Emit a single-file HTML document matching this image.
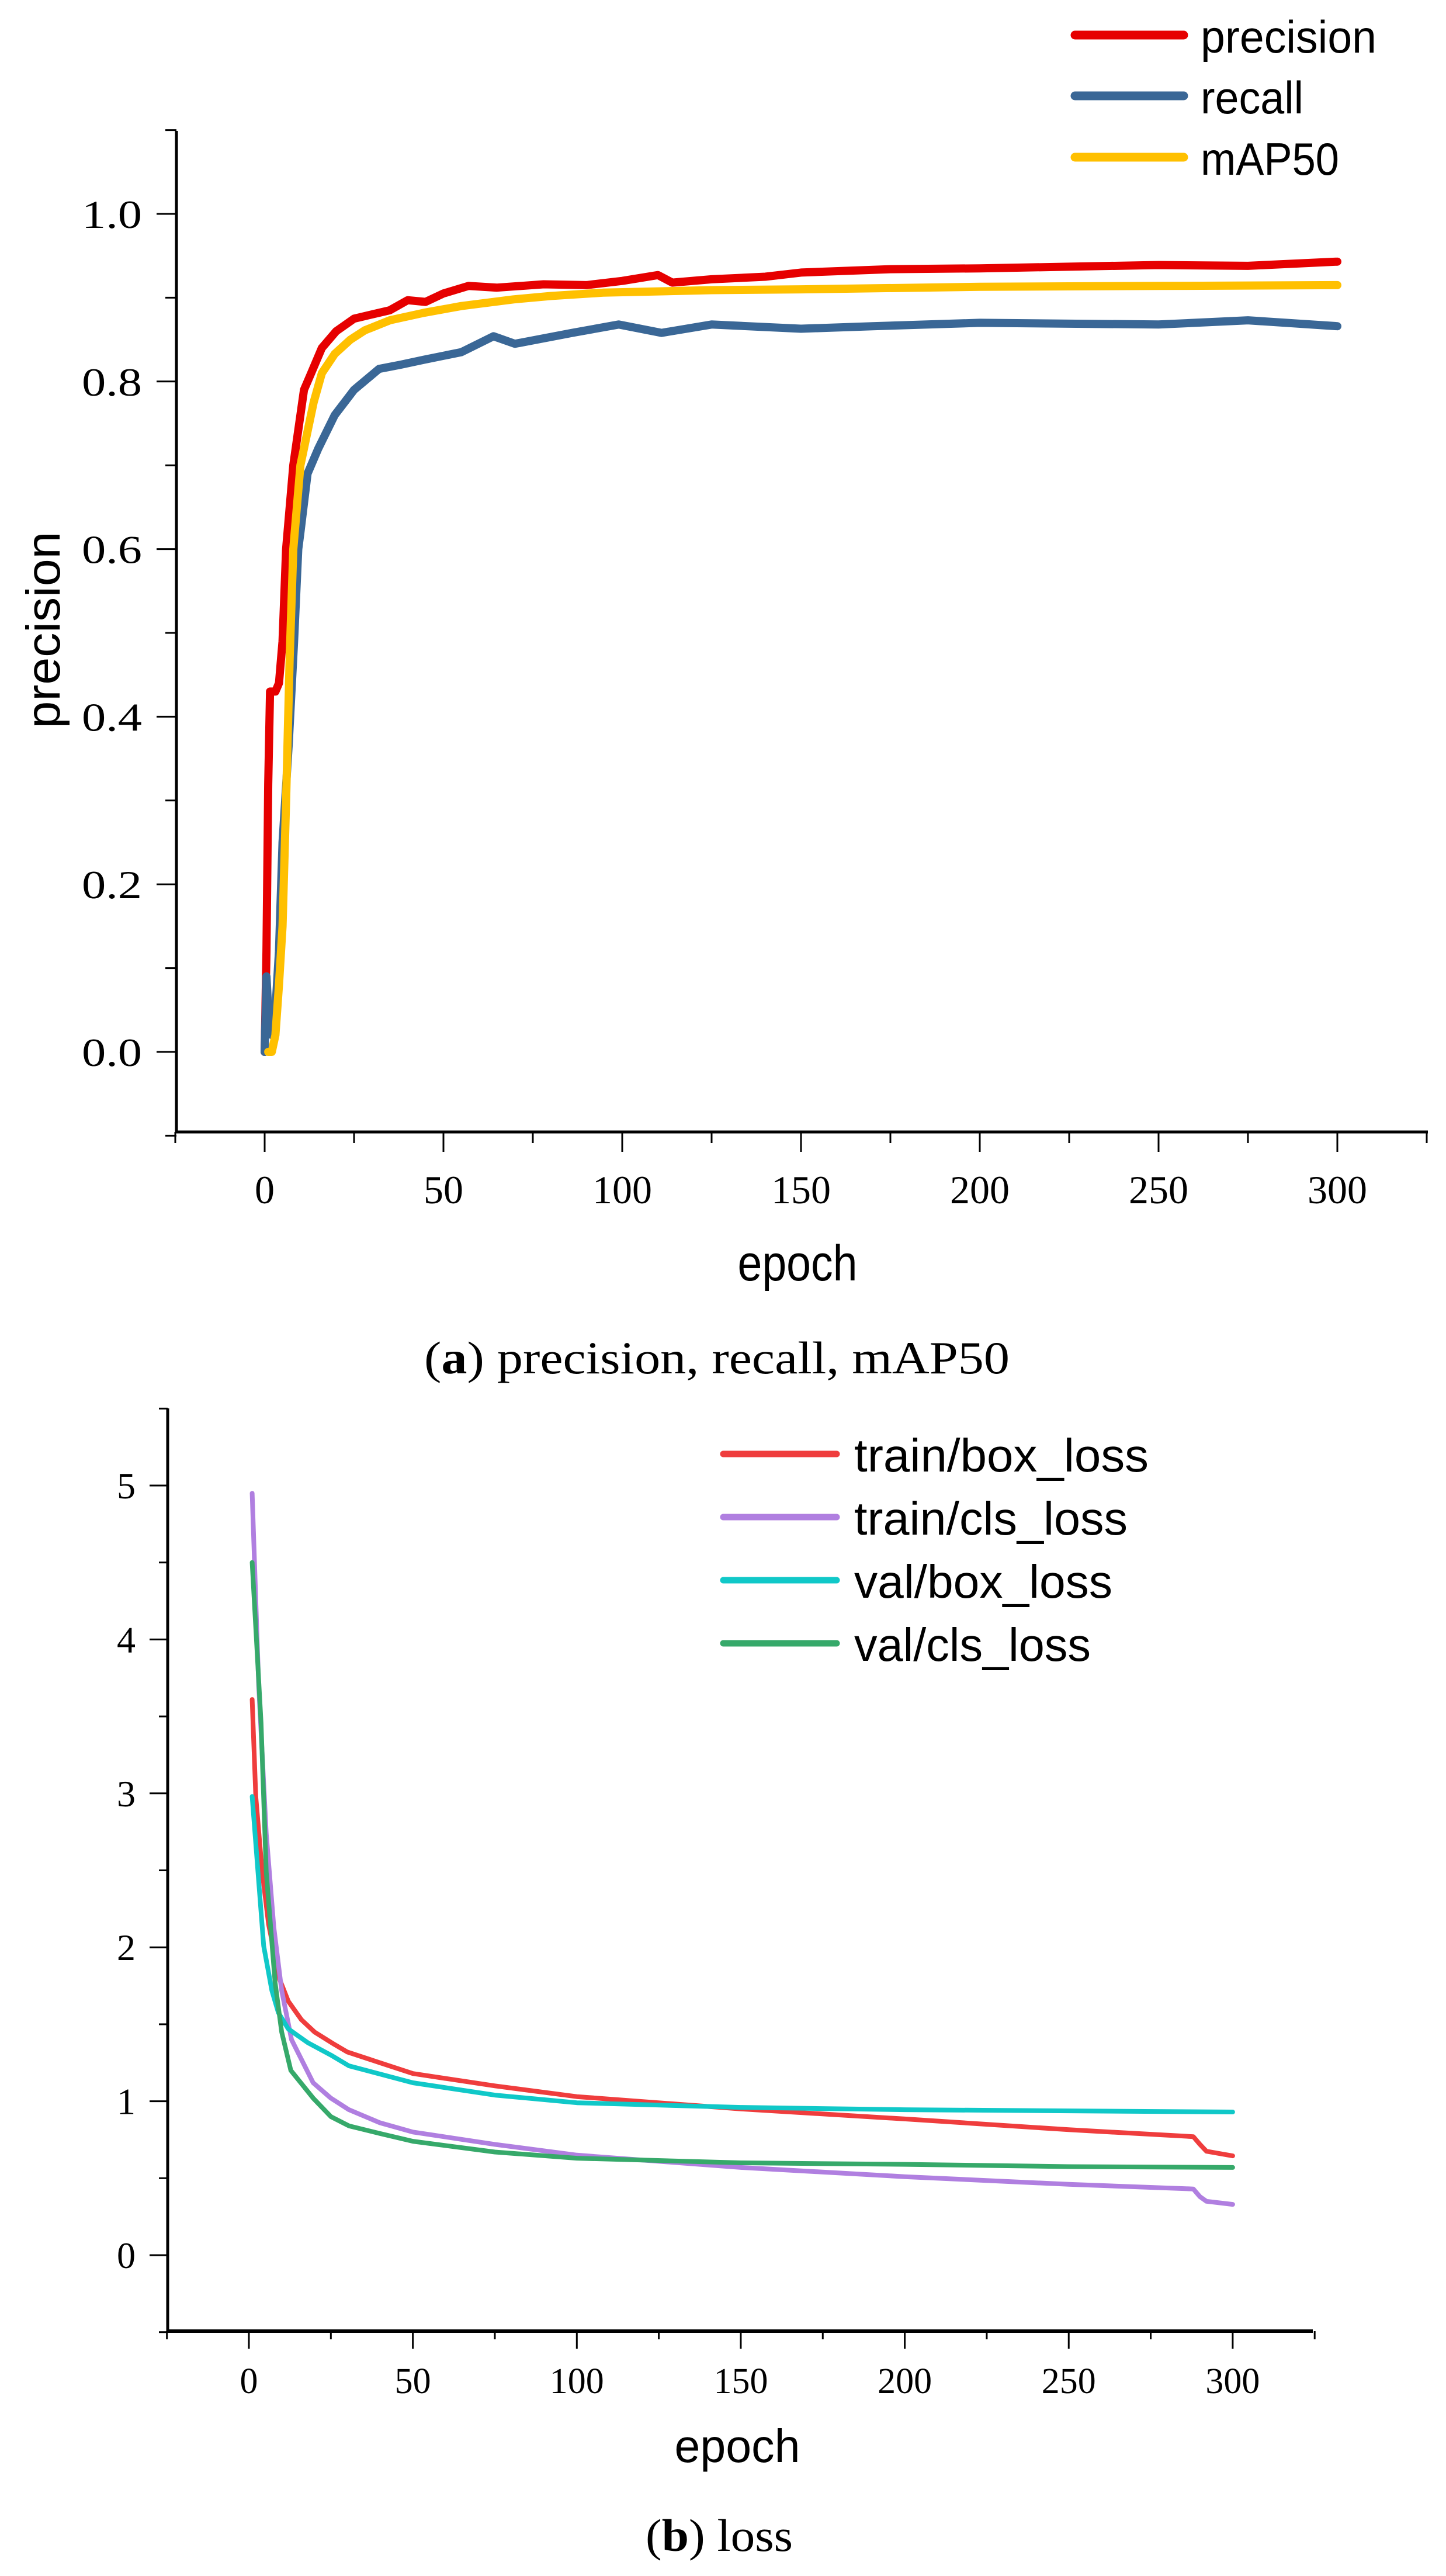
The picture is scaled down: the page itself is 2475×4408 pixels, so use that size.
<!DOCTYPE html>
<html><head><meta charset="utf-8"><style>
html,body{margin:0;padding:0;background:#fff;}
svg{display:block;}
</style></head><body>
<svg id="fig" width="2475" height="4408" viewBox="0 0 2475 4408" xmlns="http://www.w3.org/2000/svg">
<rect width="2475" height="4408" fill="#fff"/>
<g id="chartA"></g>
<g id="chartB"></g>
<text x="1227" y="2350" text-anchor="middle" font-family="Liberation Serif, serif" font-size="78" textLength="1002" lengthAdjust="spacingAndGlyphs">(<tspan font-weight="bold">a</tspan>) precision, recall, mAP50</text>
<text x="1231" y="4365" text-anchor="middle" font-family="Liberation Serif, serif" font-size="78" textLength="252" lengthAdjust="spacingAndGlyphs">(<tspan font-weight="bold">b</tspan>) loss</text>
</svg>
<script>
// ---- Chart A data ----
const precEpochs = [0,0.5,1,1.5,3,4,5,6,8,11,13,16,20,25,30,35,40,45,50,57,65,78,90,100,110,114,125,140,150,175,200,250,275,300];
const precValues = [0,0.12,0.32,0.43,0.43,0.44,0.49,0.6,0.7,0.79,0.81,0.84,0.86,0.875,0.88,0.885,0.897,0.895,0.905,0.914,0.912,0.916,0.915,0.92,0.927,0.918,0.922,0.925,0.930,0.934,0.935,0.939,0.938,0.943];
const recallEpochs = [0,0.5,1,2,3,4,5,6.7,8.2,9.4,10,12,15,19.6,25,32,38,44.6,55,64,70,86,99,111,125,150,170,200,250,275,300];
const recallValues = [0,0.09,0.05,0.02,0.05,0.12,0.25,0.365,0.488,0.6,0.62,0.69,0.72,0.76,0.79,0.815,0.82,0.826,0.835,0.854,0.845,0.858,0.868,0.858,0.868,0.863,0.866,0.870,0.868,0.873,0.866];
const mapEpochs = [1,2,3,4,5,6,7,8,10,13.7,16,19.6,24,28,35,44.6,55,69.6,80,94.6,125,150,200,250,300];
const mapValues = [0,0,0.02,0.08,0.15,0.3,0.47,0.6,0.7,0.775,0.81,0.833,0.85,0.861,0.873,0.882,0.89,0.898,0.902,0.906,0.909,0.91,0.913,0.914,0.915];
const aYTicks = [0,0.2,0.4,0.6,0.8,1.0];
const aYTickLabels = ["0.0","0.2","0.4","0.6","0.8","1.0"];
const aXTicks = [0,50,100,150,200,250,300];
const aXTickLabels = ["0","50","100","150","200","250","300"];
const aLegendLabels = ["precision","recall","mAP50"];

// ---- Chart B data ----
const boxEpochs = [1,2.1,4,6,9.4,12,16,20,26,30,40,50,75,100,150,200,250,288,290,292,300];
const boxValues = [3.61,2.98,2.5,2.15,1.79,1.65,1.53,1.45,1.37,1.32,1.25,1.18,1.10,1.03,0.95,0.885,0.815,0.77,0.72,0.675,0.645];
const clsEpochs = [1,3,5.3,7.6,10,13,19.6,25,30.5,40,50,75,100,150,200,250,288,290,292,300];
const clsValues = [4.95,3.7,2.74,2.13,1.72,1.4,1.12,1.02,0.945,0.86,0.8,0.72,0.65,0.57,0.51,0.46,0.43,0.38,0.35,0.33];
const valBoxEpochs = [1,4.5,7,9,12,18,25,30.5,50,75,100,150,200,300];
const valBoxValues = [2.98,2.01,1.72,1.575,1.47,1.38,1.30,1.23,1.12,1.04,0.99,0.96,0.945,0.93];
const valClsEpochs = [1,3.7,5.3,8,10,12.8,19.6,25,30.5,40,50,75,100,150,200,250,300];
const valClsValues = [4.5,3.46,2.49,1.77,1.45,1.2,1.02,0.9,0.84,0.79,0.74,0.67,0.63,0.6,0.59,0.575,0.57];
const bYTicks = [0,1,2,3,4,5];
const bYTickLabels = ["0","1","2","3","4","5"];
const bXTicks = [0,50,100,150,200,250,300];
const bXTickLabels = ["0","50","100","150","200","250","300"];
const bLegendLabels = ["train/box_loss","train/cls_loss","val/box_loss","val/cls_loss"];

const NS = "http://www.w3.org/2000/svg";
function mk(parent, tag, attrs){
  const e = document.createElementNS(NS, tag);
  for (const k in attrs) e.setAttribute(k, attrs[k]);
  parent.appendChild(e);
  return e;
}
function linePath(xs, ys, sx, sy){
  return xs.map((x,i)=>(i?"L":"M")+sx(x).toFixed(1)+","+sy(ys[i]).toFixed(1)).join(" ");
}

// ===== Chart A =====
(function(){
  const g = document.getElementById("chartA");
  const sx = v => 453 + v*6.12;
  const sy = v => 1800 - v*1434;
  const axisL = 302, axisB = 1937, axisT = 224, axisR = 2444;
  let e;
  for (let v=-0.1; v<=1.11; v+=0.2){
    e = mk(g,"line",{x1:axisL-19,x2:axisL,y1:sy(v),y2:sy(v),stroke:"#000","stroke-width":3});
    
    
  }
  aYTicks.forEach((v,i)=>{
    e = mk(g,"line",{x1:axisL-34,x2:axisL,y1:sy(v),y2:sy(v),stroke:"#000","stroke-width":3});
    
    
    e = mk(g,"text",{x:243,y:sy(v)+24,"text-anchor":"end","font-family":"Liberation Serif, serif","font-size":68,textLength:103,lengthAdjust:"spacingAndGlyphs"});
    e.textContent = aYTickLabels[i];
    
    
  });
  for (let v=-25; v<=325; v+=50){
    e = mk(g,"line",{x1:sx(v),x2:sx(v),y1:axisB,y2:axisB+19,stroke:"#000","stroke-width":3});
    
    
  }
  aXTicks.forEach((v,i)=>{
    e = mk(g,"line",{x1:sx(v),x2:sx(v),y1:axisB,y2:axisB+34,stroke:"#000","stroke-width":3});
    
    
    e = mk(g,"text",{x:sx(v),y:2059,"text-anchor":"middle","font-family":"Liberation Serif, serif","font-size":68});
    e.textContent = aXTickLabels[i];
    
    
  });
  e = mk(g,"line",{x1:axisL,x2:axisL,y1:axisT,y2:axisB+2,stroke:"#000","stroke-width":5});
  
  
  e = mk(g,"line",{x1:axisL-2,x2:axisR,y1:axisB,y2:axisB,stroke:"#000","stroke-width":5});
  
  

  const series = [
    {xs:precEpochs, ys:precValues, c:"#e60000", n:"precision-line"},
    {xs:recallEpochs, ys:recallValues, c:"#3a6796", n:"recall-line"},
    {xs:mapEpochs, ys:mapValues, c:"#ffc000", n:"map50-line"}
  ];
  series.forEach(s=>{
    e = mk(g,"path",{d:linePath(s.xs,s.ys,sx,sy),fill:"none",stroke:s.c,"stroke-width":14,"stroke-linejoin":"round","stroke-linecap":"round"});
    
    
  });
  const legY = [60,164,269], legW = [301,176,237];
  series.forEach((s,i)=>{
    e = mk(g,"line",{x1:1840,x2:2026,y1:legY[i],y2:legY[i],stroke:s.c,"stroke-width":15,"stroke-linecap":"round"});
    
    
    e = mk(g,"text",{x:2055,y:legY[i]+30,"font-family":"Liberation Sans, sans-serif","font-size":78,textLength:legW[i],lengthAdjust:"spacingAndGlyphs"});
    e.textContent = aLegendLabels[i];
    
    
  });
  e = mk(g,"text",{x:1365,y:2191,"text-anchor":"middle","font-family":"Liberation Sans, sans-serif","font-size":86,textLength:205,lengthAdjust:"spacingAndGlyphs"});
  e.textContent = "epoch";
  
  
  e = mk(g,"text",{x:0,y:0,transform:"translate(102,1078) rotate(-90)","text-anchor":"middle","font-family":"Liberation Sans, sans-serif","font-size":82,textLength:337,lengthAdjust:"spacingAndGlyphs"});
  e.textContent = "precision";
  
  
})();

// ===== Chart B =====
(function(){
  const g = document.getElementById("chartB");
  const sx = v => 426 + v*5.613;
  const sy = v => 3859 - v*263.4;
  const axisL = 287, axisB = 3989, axisT = 2410, axisR = 2247;
  let e;
  for (let v=-0.5; v<=5.51; v+=1){
    e = mk(g,"line",{x1:axisL-15,x2:axisL,y1:sy(v),y2:sy(v),stroke:"#000","stroke-width":3});
    
    
  }
  bYTicks.forEach((v,i)=>{
    e = mk(g,"line",{x1:axisL-31,x2:axisL,y1:sy(v),y2:sy(v),stroke:"#000","stroke-width":3});
    
    
    e = mk(g,"text",{x:232,y:sy(v)+22,"text-anchor":"end","font-family":"Liberation Serif, serif","font-size":64});
    e.textContent = bYTickLabels[i];
    
    
  });
  for (let v=-25; v<=325; v+=50){
    e = mk(g,"line",{x1:sx(v),x2:sx(v),y1:axisB,y2:axisB+14,stroke:"#000","stroke-width":3});
    
    
  }
  bXTicks.forEach((v,i)=>{
    e = mk(g,"line",{x1:sx(v),x2:sx(v),y1:axisB,y2:axisB+30,stroke:"#000","stroke-width":3});
    
    
    e = mk(g,"text",{x:sx(v),y:4095,"text-anchor":"middle","font-family":"Liberation Serif, serif","font-size":62});
    e.textContent = bXTickLabels[i];
    
    
  });
  e = mk(g,"line",{x1:axisL,x2:axisL,y1:axisT,y2:axisB+2,stroke:"#000","stroke-width":5});
  
  
  e = mk(g,"line",{x1:axisL-2,x2:axisR,y1:axisB,y2:axisB,stroke:"#000","stroke-width":6});
  
  

  const series = [
    {xs:boxEpochs, ys:boxValues, c:"#ef3d3d", n:"train-box-loss-line"},
    {xs:clsEpochs, ys:clsValues, c:"#b07fe0", n:"train-cls-loss-line"},
    {xs:valBoxEpochs, ys:valBoxValues, c:"#10c8c8", n:"val-box-loss-line"},
    {xs:valClsEpochs, ys:valClsValues, c:"#36a96a", n:"val-cls-loss-line"}
  ];
  series.forEach(s=>{
    e = mk(g,"path",{d:linePath(s.xs,s.ys,sx,sy),fill:"none",stroke:s.c,"stroke-width":8,"stroke-linejoin":"round","stroke-linecap":"round"});
    
    
  });
  const legY = [2488,2596,2704,2812], legW = [504,468,442,405];
  series.forEach((s,i)=>{
    e = mk(g,"line",{x1:1238,x2:1432,y1:legY[i],y2:legY[i],stroke:s.c,"stroke-width":11,"stroke-linecap":"round"});
    
    
    e = mk(g,"text",{x:1462,y:legY[i]+30,"font-family":"Liberation Sans, sans-serif","font-size":80,textLength:legW[i],lengthAdjust:"spacingAndGlyphs"});
    e.textContent = bLegendLabels[i];
    
    
  });
  e = mk(g,"text",{x:1262,y:4213,"text-anchor":"middle","font-family":"Liberation Sans, sans-serif","font-size":80,textLength:215,lengthAdjust:"spacingAndGlyphs"});
  e.textContent = "epoch";
  
  
})();
</script>
</body></html>
